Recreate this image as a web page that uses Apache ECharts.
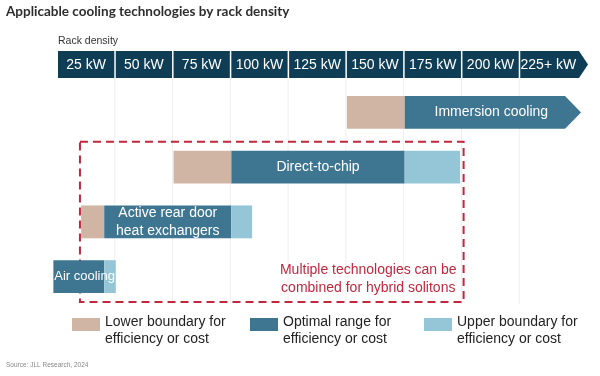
<!DOCTYPE html>
<html>
<head>
<meta charset="utf-8">
<script src="https://cdn.jsdelivr.net/npm/echarts@6.0.0/dist/echarts.min.js"></script>
<style>
  html, body { margin: 0; padding: 0; background: #fff; }
  #chart { width: 600px; height: 376px; }
</style>
</head>
<body>
<div id="chart"></div>
<script>
  // rack density columns, each one 25 kW wide
  const tiers = ['25 kW', '50 kW', '75 kW', '100 kW', '125 kW', '150 kW', '175 kW', '200 kW', '225+ kW'];
  const TIER = 25;

  // technologies, top to bottom
  const technologies = ['Immersion cooling', 'Direct-to-chip', 'Active rear door\nheat exchangers', 'Air cooling'];
  const lowerStart = [125, 50, 10, null];
  const optimalStart = [150, 75, 20, -2];
  const optimalEnd = [225, 150, 75, 20];
  const upperEnd = [null, 174, 84, 25];
  const openEnded = [true, false, false, false];

  // dashed "hybrid" frame: kW range and covered rows
  const hybridSpan = [9.5, 175.5];
  const hybridRows = [1, 3];
  const hybridNote = 'Multiple technologies can be\ncombined for hybrid solitons';

  const legendNames = ['Lower boundary for\nefficiency or cost', 'Optimal range for\nefficiency or cost', 'Upper boundary for\nefficiency or cost'];

  const COLORS = {
    header: '#0e3d55',
    lower: '#d0b5a4',
    optimal: '#3e7590',
    upper: '#95c6d8',
    hybrid: '#c1283d',
    grid: '#efefef',
    text: '#222'
  };
  const FONT = '"Liberation Sans", Arial, sans-serif';

  const measureCtx = document.createElement('canvas').getContext('2d');
  measureCtx.font = '14px ' + FONT;
  const textWidth = (s) => Math.max(...s.split('\n').map((l) => measureCtx.measureText(l).width));

  const chart = echarts.init(document.getElementById('chart'));

  // one custom series per segment type (lower / optimal / upper)
  const segmentSeries = (name, starts, ends, color, withLabel) => {
    const data = [];
    technologies.forEach((t, i) => {
      if (starts[i] == null || ends[i] == null) return;
      data.push([starts[i], ends[i], i]);
    });
    return {
      name,
      type: 'custom',
      xAxisIndex: 1,
      yAxisIndex: 1,
      z: 3,
      silent: true,
      encode: { x: [0, 1], y: 2 },
      data,
      renderItem: (params, api) => {
        const row = api.value(2);
        const a = api.coord([api.value(0), row]);
        const b = api.coord([api.value(1), row]);
        const h = api.size([0, 1])[1] * 0.6;
        const top = a[1] - h / 2;
        const children = [];
        if (withLabel && openEnded[row]) {
          children.push({
            type: 'polygon',
            shape: { points: [[a[0], top], [b[0] - 13, top], [b[0] + 3, a[1]], [b[0] - 13, top + h], [a[0], top + h]] },
            style: { fill: color }
          });
        } else {
          children.push({ type: 'rect', shape: { x: a[0], y: top, width: b[0] - a[0], height: h }, style: { fill: color } });
        }
        if (withLabel) {
          const label = technologies[row];
          let cx = (a[0] + b[0]) / 2;
          let size = 14;
          // label wider than the optimal part: centre it on the whole bar
          if (textWidth(label) + 4 > b[0] - a[0] && upperEnd[row] != null) {
            cx = (a[0] + api.coord([upperEnd[row], row])[0]) / 2;
            size = 13;
          }
          children.push({
            type: 'text',
            z2: 10,
            style: {
              text: label,
              x: cx,
              y: a[1],
              align: 'center',
              verticalAlign: 'middle',
              font: size + 'px ' + FONT,
              lineHeight: 18,
              fill: '#fff'
            }
          });
        }
        return { type: 'group', children };
      }
    };
  };

  const option = {
    animation: false,
    grid: [
      { left: 58, width: 520, top: 51, height: 27 },
      { left: 58, width: 520, top: 85, height: 219 }
    ],
    xAxis: [
      { type: 'value', gridIndex: 0, min: 0, max: TIER * tiers.length, show: false },
      { type: 'value', gridIndex: 1, min: 0, max: TIER * tiers.length, show: false }
    ],
    yAxis: [
      { type: 'category', gridIndex: 0, data: ['Rack density'], show: false },
      { type: 'category', gridIndex: 1, data: technologies, inverse: true, show: false }
    ],
    graphic: [
      {
        type: 'text', left: 6, top: 5,
        style: { text: 'Applicable cooling technologies by rack density', font: 'bold 13.5px Lato, sans-serif', fill: '#2e2e2e' }
      },
      {
        type: 'text', left: 58, top: 36,
        style: { text: 'Rack density', font: '10.5px ' + FONT, fill: '#333' }
      },
      ...legendNames.map((name, i) => ({
        type: 'group',
        left: [72, 250, 424][i],
        top: 314,
        children: [
          { type: 'rect', shape: { x: 0, y: 4, width: 28, height: 13 }, style: { fill: [COLORS.lower, COLORS.optimal, COLORS.upper][i] } },
          { type: 'text', x: 33, y: 0, style: { text: name, font: '14px ' + FONT, lineHeight: 17, fill: COLORS.text } }
        ]
      })),
      {
        type: 'text', left: 6, top: 362,
        style: { text: 'Source: JLL Research, 2024', font: '6.5px ' + FONT, fill: '#888' }
      }
    ],
    series: [
      // header strip
      {
        type: 'custom',
        xAxisIndex: 0,
        yAxisIndex: 0,
        silent: true,
        encode: { x: [0, 1], y: 2 },
        data: tiers.map((t, i) => [i * TIER, (i + 1) * TIER, 0]),
        renderItem: (params, api) => {
          const i = params.dataIndex;
          const a = api.coord([api.value(0), 0]);
          const b = api.coord([api.value(1), 0]);
          const h = api.size([0, 1])[1];
          const top = a[1] - h / 2;
          const last = i === tiers.length - 1;
          const shape = last
            ? { type: 'polygon', shape: { points: [[a[0], top], [b[0] + 1, top], [b[0] + 10, a[1]], [b[0] + 1, top + h], [a[0], top + h]] } }
            : { type: 'rect', shape: { x: a[0], y: top, width: b[0] - a[0] - 1.5, height: h } };
          shape.style = { fill: COLORS.header };
          return {
            type: 'group',
            children: [
              shape,
              {
                type: 'text',
                style: {
                  text: tiers[i], x: (a[0] + b[0] - 1.5) / 2, y: a[1] + 0.5,
                  align: 'center', verticalAlign: 'middle', font: '14px ' + FONT, fill: '#fff'
                }
              }
            ]
          };
        }
      },
      // faint column separators
      {
        type: 'custom',
        xAxisIndex: 1,
        yAxisIndex: 1,
        silent: true,
        z: 0,
        encode: { x: 0, y: 1 },
        data: tiers.slice(1).map((t, i) => [(i + 1) * TIER, 0]),
        renderItem: (params, api) => {
          const cs = params.coordSys;
          const x = api.coord([api.value(0), 0])[0] - 1;
          return {
            type: 'line',
            shape: { x1: x, y1: cs.y - 7, x2: x, y2: cs.y + cs.height },
            style: { stroke: COLORS.grid, lineWidth: 1 }
          };
        }
      },
      // hybrid frame
      {
        type: 'custom',
        xAxisIndex: 1,
        yAxisIndex: 1,
        silent: true,
        z: 2,
        encode: { x: [0, 1], y: 2 },
        data: [[hybridSpan[0], hybridSpan[1], hybridRows[0], hybridRows[1]]],
        renderItem: (params, api) => {
          const band = api.size([0, 1])[1];
          const a = api.coord([api.value(0), api.value(2)]);
          const b = api.coord([api.value(1), api.value(3)]);
          const top = a[1] - band / 2 + 2;
          const bottom = b[1] + band / 2 - 2;
          return {
            type: 'group',
            children: [
              {
                type: 'rect',
                shape: { x: a[0], y: top, width: b[0] - a[0], height: bottom - top },
                style: { fill: 'none', stroke: COLORS.hybrid, lineWidth: 2, lineDash: [8, 5] }
              },
              {
                type: 'text',
                z2: 20,
                style: {
                  text: hybridNote, x: b[0] - 7 - textWidth(hybridNote) / 2, y: b[1] + 3,
                  align: 'center', verticalAlign: 'middle', font: '14px ' + FONT, lineHeight: 18, fill: COLORS.hybrid
                }
              }
            ]
          };
        }
      },
      segmentSeries(legendNames[0], lowerStart, optimalStart, COLORS.lower, false),
      segmentSeries(legendNames[1], optimalStart, optimalEnd, COLORS.optimal, true),
      segmentSeries(legendNames[2], optimalEnd, upperEnd, COLORS.upper, false)
    ]
  };

  chart.setOption(option);
  window.addEventListener('resize', () => chart.resize());
</script>
</body>
</html>
